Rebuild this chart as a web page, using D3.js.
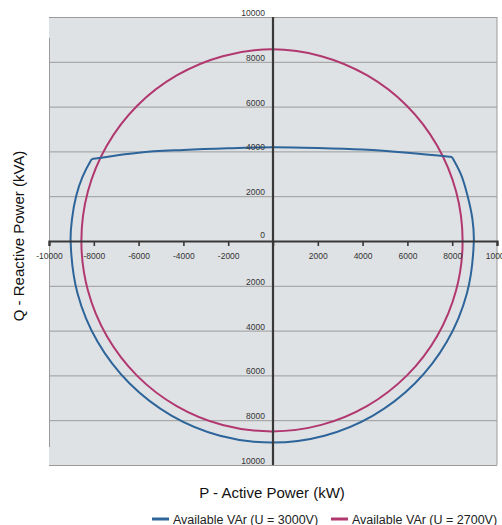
<!DOCTYPE html>
<html>
<head>
<meta charset="utf-8">
<script src="https://cdn.jsdelivr.net/npm/d3@7"></script>
<style>
  body { margin: 0; background: #fff; }
  text { font-family: "Liberation Sans", Arial, sans-serif; }
</style>
</head>
<body>
<svg id="chart" width="502" height="525"></svg>
<script>
// tick values
const xTicks = [-10000, -8000, -6000, -4000, -2000, 0, 2000, 4000, 6000, 8000, 10000];
const yTicks = [-10000, -8000, -6000, -4000, -2000, 0, 2000, 4000, 6000, 8000, 10000];

// U = 3000V : flat top part (cap) and the lower arc
const capP = [-8094, -6000, -4000, -2000, 0, 2000, 4000, 6000, 7990];
const capQ = [3661, 3945, 4065, 4140, 4183, 4150, 4080, 3940, 3750];
const arcP = [7990, 8400, 8690, 8900, 8965, 8658, 7759, 6329, 4465, 2294, -35,
              -2364, -4535, -6399, -7829, -8728, -9035, -8970, -8790, -8500, -8094];
const arcQ = [3750, 2950, 2000, 1000, 0, -2329, -4500, -6364, -7794, -8693, -9000,
              -8693, -7794, -6364, -4500, -2329, 0, 1000, 2000, 2870, 3661];

// U = 2700V : full circle
const magP = [8465, 8175, 7325, 5972, 4210, 2157, -45, -2247, -4300, -6062, -7415, -8265,
              -8555, -8265, -7415, -6062, -4300, -2247, -45, 2157, 4210, 5972, 7325, 8175];
const magQ = [0, -2202, -4250, -6010, -7360, -8210, -8500, -8215, -7370, -6020, -4255, -2202,
              0, 2205, 4265, 6040, 7390, 8250, 8555, 8250, 7390, 6040, 4265, 2205];

const seriesNames = ['Available VAr (U = 3000V)', 'Available VAr (U = 2700V)'];
const colors = ['#2d6499', '#b1386f'];

const svg = d3.select('svg#chart');
const plotLeft = 49, plotRight = 497, plotTop = 17, plotBottom = 465;

const xScale = d3.scaleLinear().domain([-10000, 10000]).range([plotLeft, plotRight]);
const yScale = d3.scaleLinear().domain([-10000, 10000]).range([plotBottom, plotTop]);

// background
svg.append('rect')
    .attr('x', plotLeft).attr('y', plotTop)
    .attr('width', plotRight - plotLeft).attr('height', plotBottom - plotTop)
    .attr('fill', '#dfe2e5');

// horizontal grid lines
svg.append('g').selectAll('line').data(yTicks.filter(d => d !== 0))
    .enter().append('line')
    .attr('x1', plotLeft).attr('x2', plotRight)
    .attr('y1', d => yScale(d) + 0.5).attr('y2', d => yScale(d) + 0.5)
    .attr('stroke', '#9b9b9b').attr('stroke-width', 1);

// plot borders left/right
svg.append('line')
    .attr('x1', plotRight).attr('x2', plotRight).attr('y1', plotTop).attr('y2', plotBottom)
    .attr('stroke', '#9b9b9b');
svg.append('line')
    .attr('x1', plotLeft + 0.5).attr('x2', plotLeft + 0.5).attr('y1', 38).attr('y2', 447)
    .attr('stroke', '#9b9b9b');

// curves
const line = d3.line()
    .x(d => xScale(d[0]))
    .y(d => yScale(d[1]));

const cap = capP.map((p, i) => [p, capQ[i]]);
const arc = arcP.map((p, i) => [p, arcQ[i]]);
const mag = magP.map((p, i) => [p, magQ[i]]);

svg.append('path').attr('d', line.curve(d3.curveCatmullRomClosed)(mag))
    .attr('fill', 'none').attr('stroke', colors[1]).attr('stroke-width', 2);
svg.append('path').attr('d', line.curve(d3.curveCatmullRom)(cap))
    .attr('fill', 'none').attr('stroke', colors[0]).attr('stroke-width', 2);
svg.append('path').attr('d', line.curve(d3.curveCatmullRom)(arc))
    .attr('fill', 'none').attr('stroke', colors[0]).attr('stroke-width', 2);

// x axis through origin
const xAxis = d3.axisBottom(xScale)
    .tickValues(xTicks)
    .tickSize(5)
    .tickPadding(7)
    .tickFormat(d => d === 0 ? '' : d);
const gx = svg.append('g')
    .attr('transform', `translate(0, ${yScale(0)})`)
    .call(xAxis);
gx.select('.domain').attr('stroke', '#383838').attr('stroke-width', 2.2);
gx.selectAll('.tick line').attr('stroke', '#383838').attr('stroke-width', 1.6);
gx.selectAll('.tick text').attr('fill', '#333').attr('font-size', 8.5);

// y axis through origin (labels only, absolute values)
svg.append('line')
    .attr('x1', xScale(0)).attr('x2', xScale(0))
    .attr('y1', plotTop).attr('y2', plotBottom)
    .attr('stroke', '#383838').attr('stroke-width', 2.2);

svg.append('g').selectAll('text').data(yTicks)
    .enter().append('text')
    .attr('x', xScale(0) - 8)
    .attr('y', d => d === 0 ? yScale(d) - 3 : yScale(d) - 1)
    .attr('text-anchor', 'end')
    .attr('font-size', 8.5)
    .attr('fill', '#333')
    .text(d => Math.abs(d));

// axis titles
svg.append('text')
    .attr('transform', `translate(24, 236) rotate(-90)`)
    .attr('text-anchor', 'middle')
    .attr('font-size', 15)
    .attr('fill', '#111')
    .text('Q - Reactive Power (kVA)');

svg.append('text')
    .attr('x', 272).attr('y', 498)
    .attr('text-anchor', 'middle')
    .attr('font-size', 15)
    .attr('fill', '#111')
    .text('P - Active Power (kW)');

// legend
const legendX = [152, 331];
const legend = svg.append('g').selectAll('g').data(seriesNames)
    .enter().append('g')
    .attr('transform', (d, i) => `translate(${legendX[i]}, 519)`);
legend.append('line')
    .attr('x1', 0).attr('x2', 17).attr('y1', 0).attr('y2', 0)
    .attr('stroke', (d, i) => colors[i]).attr('stroke-width', 3);
legend.append('text')
    .attr('x', 21).attr('y', 4.5)
    .attr('font-size', 12.5)
    .attr('fill', '#222')
    .text(d => d);
</script>
</body>
</html>
